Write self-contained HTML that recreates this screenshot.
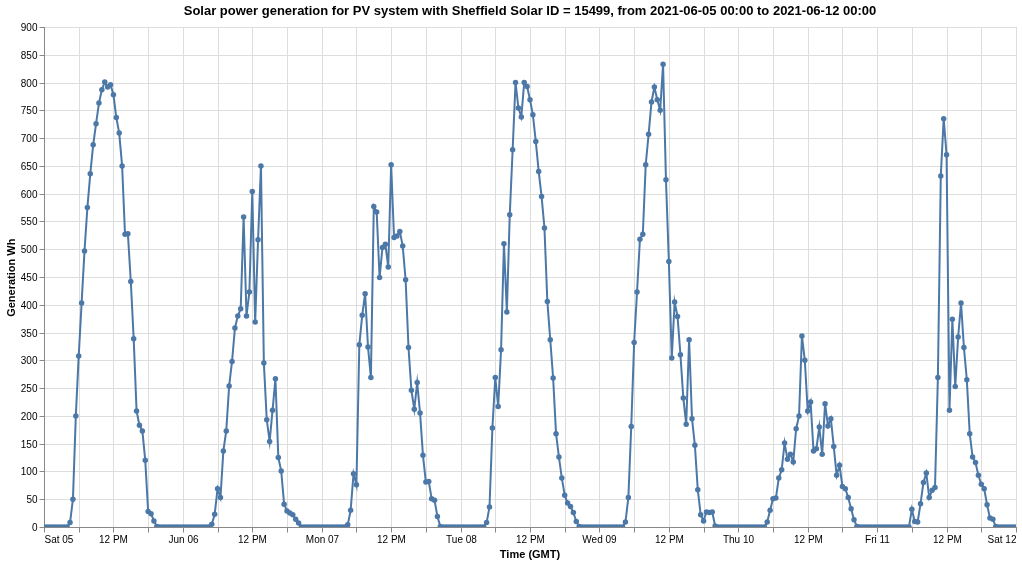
<!DOCTYPE html>
<html><head><meta charset="utf-8"><title>Solar power generation</title>
<style>html,body{margin:0;padding:0;background:#fff;}body{width:1022px;height:564px;overflow:hidden;}svg{display:block;will-change:transform;}text{font-family:"Liberation Sans",sans-serif;}</style></head><body>
<svg width="1022" height="564" viewBox="0 0 1022 564">
<rect width="1022" height="564" fill="#fff"/>
<g stroke="#ddd" stroke-width="1" fill="none">
<line x1="44.5" y1="27" x2="44.5" y2="527"/>
<line x1="79.5" y1="27" x2="79.5" y2="527"/>
<line x1="113.5" y1="27" x2="113.5" y2="527"/>
<line x1="148.5" y1="27" x2="148.5" y2="527"/>
<line x1="183.5" y1="27" x2="183.5" y2="527"/>
<line x1="218.5" y1="27" x2="218.5" y2="527"/>
<line x1="252.5" y1="27" x2="252.5" y2="527"/>
<line x1="287.5" y1="27" x2="287.5" y2="527"/>
<line x1="322.5" y1="27" x2="322.5" y2="527"/>
<line x1="356.5" y1="27" x2="356.5" y2="527"/>
<line x1="391.5" y1="27" x2="391.5" y2="527"/>
<line x1="426.5" y1="27" x2="426.5" y2="527"/>
<line x1="461.5" y1="27" x2="461.5" y2="527"/>
<line x1="495.5" y1="27" x2="495.5" y2="527"/>
<line x1="530.5" y1="27" x2="530.5" y2="527"/>
<line x1="565.5" y1="27" x2="565.5" y2="527"/>
<line x1="599.5" y1="27" x2="599.5" y2="527"/>
<line x1="634.5" y1="27" x2="634.5" y2="527"/>
<line x1="669.5" y1="27" x2="669.5" y2="527"/>
<line x1="704.5" y1="27" x2="704.5" y2="527"/>
<line x1="738.5" y1="27" x2="738.5" y2="527"/>
<line x1="773.5" y1="27" x2="773.5" y2="527"/>
<line x1="808.5" y1="27" x2="808.5" y2="527"/>
<line x1="842.5" y1="27" x2="842.5" y2="527"/>
<line x1="877.5" y1="27" x2="877.5" y2="527"/>
<line x1="912.5" y1="27" x2="912.5" y2="527"/>
<line x1="947.5" y1="27" x2="947.5" y2="527"/>
<line x1="981.5" y1="27" x2="981.5" y2="527"/>
<line x1="1016.5" y1="27" x2="1016.5" y2="527"/>
<line x1="44" y1="527.5" x2="1016" y2="527.5"/>
<line x1="44" y1="499.5" x2="1016" y2="499.5"/>
<line x1="44" y1="471.5" x2="1016" y2="471.5"/>
<line x1="44" y1="444.5" x2="1016" y2="444.5"/>
<line x1="44" y1="416.5" x2="1016" y2="416.5"/>
<line x1="44" y1="388.5" x2="1016" y2="388.5"/>
<line x1="44" y1="360.5" x2="1016" y2="360.5"/>
<line x1="44" y1="333.5" x2="1016" y2="333.5"/>
<line x1="44" y1="305.5" x2="1016" y2="305.5"/>
<line x1="44" y1="277.5" x2="1016" y2="277.5"/>
<line x1="44" y1="249.5" x2="1016" y2="249.5"/>
<line x1="44" y1="221.5" x2="1016" y2="221.5"/>
<line x1="44" y1="194.5" x2="1016" y2="194.5"/>
<line x1="44" y1="166.5" x2="1016" y2="166.5"/>
<line x1="44" y1="138.5" x2="1016" y2="138.5"/>
<line x1="44" y1="110.5" x2="1016" y2="110.5"/>
<line x1="44" y1="83.5" x2="1016" y2="83.5"/>
<line x1="44" y1="55.5" x2="1016" y2="55.5"/>
<line x1="44" y1="27.5" x2="1016" y2="27.5"/>
</g>
<g stroke="#888" stroke-width="1" fill="none">
<line x1="44.5" y1="527.5" x2="44.5" y2="532.5"/>
<line x1="79.5" y1="527.5" x2="79.5" y2="532.5"/>
<line x1="113.5" y1="527.5" x2="113.5" y2="532.5"/>
<line x1="148.5" y1="527.5" x2="148.5" y2="532.5"/>
<line x1="183.5" y1="527.5" x2="183.5" y2="532.5"/>
<line x1="218.5" y1="527.5" x2="218.5" y2="532.5"/>
<line x1="252.5" y1="527.5" x2="252.5" y2="532.5"/>
<line x1="287.5" y1="527.5" x2="287.5" y2="532.5"/>
<line x1="322.5" y1="527.5" x2="322.5" y2="532.5"/>
<line x1="356.5" y1="527.5" x2="356.5" y2="532.5"/>
<line x1="391.5" y1="527.5" x2="391.5" y2="532.5"/>
<line x1="426.5" y1="527.5" x2="426.5" y2="532.5"/>
<line x1="461.5" y1="527.5" x2="461.5" y2="532.5"/>
<line x1="495.5" y1="527.5" x2="495.5" y2="532.5"/>
<line x1="530.5" y1="527.5" x2="530.5" y2="532.5"/>
<line x1="565.5" y1="527.5" x2="565.5" y2="532.5"/>
<line x1="599.5" y1="527.5" x2="599.5" y2="532.5"/>
<line x1="634.5" y1="527.5" x2="634.5" y2="532.5"/>
<line x1="669.5" y1="527.5" x2="669.5" y2="532.5"/>
<line x1="704.5" y1="527.5" x2="704.5" y2="532.5"/>
<line x1="738.5" y1="527.5" x2="738.5" y2="532.5"/>
<line x1="773.5" y1="527.5" x2="773.5" y2="532.5"/>
<line x1="808.5" y1="527.5" x2="808.5" y2="532.5"/>
<line x1="842.5" y1="527.5" x2="842.5" y2="532.5"/>
<line x1="877.5" y1="527.5" x2="877.5" y2="532.5"/>
<line x1="912.5" y1="527.5" x2="912.5" y2="532.5"/>
<line x1="947.5" y1="527.5" x2="947.5" y2="532.5"/>
<line x1="981.5" y1="527.5" x2="981.5" y2="532.5"/>
<line x1="1016.5" y1="527.5" x2="1016.5" y2="532.5"/>
<line x1="39.5" y1="527.5" x2="44.5" y2="527.5"/>
<line x1="39.5" y1="499.5" x2="44.5" y2="499.5"/>
<line x1="39.5" y1="471.5" x2="44.5" y2="471.5"/>
<line x1="39.5" y1="444.5" x2="44.5" y2="444.5"/>
<line x1="39.5" y1="416.5" x2="44.5" y2="416.5"/>
<line x1="39.5" y1="388.5" x2="44.5" y2="388.5"/>
<line x1="39.5" y1="360.5" x2="44.5" y2="360.5"/>
<line x1="39.5" y1="333.5" x2="44.5" y2="333.5"/>
<line x1="39.5" y1="305.5" x2="44.5" y2="305.5"/>
<line x1="39.5" y1="277.5" x2="44.5" y2="277.5"/>
<line x1="39.5" y1="249.5" x2="44.5" y2="249.5"/>
<line x1="39.5" y1="221.5" x2="44.5" y2="221.5"/>
<line x1="39.5" y1="194.5" x2="44.5" y2="194.5"/>
<line x1="39.5" y1="166.5" x2="44.5" y2="166.5"/>
<line x1="39.5" y1="138.5" x2="44.5" y2="138.5"/>
<line x1="39.5" y1="110.5" x2="44.5" y2="110.5"/>
<line x1="39.5" y1="83.5" x2="44.5" y2="83.5"/>
<line x1="39.5" y1="55.5" x2="44.5" y2="55.5"/>
<line x1="39.5" y1="27.5" x2="44.5" y2="27.5"/>
<line x1="44" y1="527.5" x2="1017" y2="527.5"/>
<line x1="44.5" y1="27" x2="44.5" y2="528"/>
</g>
<g font-size="10" fill="#000">
<text x="37.5" y="530.5" text-anchor="end">0</text>
<text x="37.5" y="502.5" text-anchor="end">50</text>
<text x="37.5" y="474.5" text-anchor="end">100</text>
<text x="37.5" y="447.5" text-anchor="end">150</text>
<text x="37.5" y="419.5" text-anchor="end">200</text>
<text x="37.5" y="391.5" text-anchor="end">250</text>
<text x="37.5" y="363.5" text-anchor="end">300</text>
<text x="37.5" y="336.5" text-anchor="end">350</text>
<text x="37.5" y="308.5" text-anchor="end">400</text>
<text x="37.5" y="280.5" text-anchor="end">450</text>
<text x="37.5" y="252.5" text-anchor="end">500</text>
<text x="37.5" y="224.5" text-anchor="end">550</text>
<text x="37.5" y="197.5" text-anchor="end">600</text>
<text x="37.5" y="169.5" text-anchor="end">650</text>
<text x="37.5" y="141.5" text-anchor="end">700</text>
<text x="37.5" y="113.5" text-anchor="end">750</text>
<text x="37.5" y="86.5" text-anchor="end">800</text>
<text x="37.5" y="58.5" text-anchor="end">850</text>
<text x="37.5" y="30.5" text-anchor="end">900</text>
<text x="44.5" y="543.0" text-anchor="start">Sat 05</text>
<text x="113.5" y="543.0" text-anchor="middle">12 PM</text>
<text x="183.5" y="543.0" text-anchor="middle">Jun 06</text>
<text x="252.5" y="543.0" text-anchor="middle">12 PM</text>
<text x="322.5" y="543.0" text-anchor="middle">Mon 07</text>
<text x="391.5" y="543.0" text-anchor="middle">12 PM</text>
<text x="461.5" y="543.0" text-anchor="middle">Tue 08</text>
<text x="530.5" y="543.0" text-anchor="middle">12 PM</text>
<text x="599.5" y="543.0" text-anchor="middle">Wed 09</text>
<text x="669.5" y="543.0" text-anchor="middle">12 PM</text>
<text x="738.5" y="543.0" text-anchor="middle">Thu 10</text>
<text x="808.5" y="543.0" text-anchor="middle">12 PM</text>
<text x="877.5" y="543.0" text-anchor="middle">Fri 11</text>
<text x="947.5" y="543.0" text-anchor="middle">12 PM</text>
<text x="1016.5" y="543.0" text-anchor="end">Sat 12</text>
</g>
<text x="530" y="558" text-anchor="middle" font-size="11" font-weight="bold" fill="#000">Time (GMT)</text>
<text transform="translate(14.6,277.7) rotate(-90)" text-anchor="middle" font-size="11" font-weight="bold" fill="#000">Generation Wh</text>
<text x="530" y="15" text-anchor="middle" font-size="13" font-weight="bold" fill="#000">Solar power generation for PV system with Sheffield Solar ID = 15499, from 2021-06-05 00:00 to 2021-06-12 00:00</text>
<defs><clipPath id="c"><rect x="44" y="27" width="972" height="500"/></clipPath></defs>
<g clip-path="url(#c)">
<path d="M44.00,527.00L46.89,527.00L49.79,527.00L52.68,527.00L55.57,527.00L58.46,527.00L61.36,527.00L64.25,527.00L67.14,527.00L70.04,522.56L72.93,499.22L75.82,415.89L78.71,355.89L81.61,303.11L84.50,250.89L87.39,207.56L90.29,173.67L93.18,144.78L96.07,123.67L98.96,103.11L101.86,89.78L104.75,82.00L107.64,87.00L110.54,84.78L113.43,94.78L116.32,117.56L119.21,133.11L122.11,165.89L125.00,234.22L127.89,233.67L130.79,281.44L133.68,338.67L136.57,410.89L139.46,425.33L142.36,430.89L145.25,460.33L148.14,511.44L151.04,513.67L153.93,520.89L156.82,526.44L159.71,527.00L162.61,527.00L165.50,527.00L168.39,527.00L171.29,527.00L174.18,527.00L177.07,527.00L179.96,527.00L182.86,527.00L185.75,527.00L188.64,527.00L191.54,527.00L194.43,527.00L197.32,527.00L200.21,527.00L203.11,527.00L206.00,527.00L208.89,527.00L211.79,524.22L214.68,514.22L217.57,488.67L220.46,497.56L223.36,450.89L226.25,430.89L229.14,385.89L232.04,361.44L234.93,328.11L237.82,315.89L240.71,308.67L243.61,217.00L246.50,315.89L249.39,292.00L252.29,191.44L255.18,322.00L258.07,239.78L260.96,165.89L263.86,363.11L266.75,419.78L269.64,441.44L272.54,410.33L275.43,378.67L278.32,457.56L281.21,470.89L284.11,504.22L287.00,510.89L289.89,513.11L292.79,514.78L295.68,519.22L298.57,523.11L301.46,527.00L304.36,527.00L307.25,527.00L310.14,527.00L313.04,527.00L315.93,527.00L318.82,527.00L321.71,527.00L324.61,527.00L327.50,527.00L330.39,527.00L333.29,527.00L336.18,527.00L339.07,527.00L341.96,527.00L344.86,527.00L347.75,524.78L350.64,510.33L353.54,473.67L356.43,484.78L359.32,344.78L362.21,315.33L365.11,293.67L368.00,347.00L370.89,377.56L373.79,206.44L376.68,212.00L379.57,277.56L382.46,247.56L385.36,244.22L388.25,267.00L391.14,164.78L394.04,237.56L396.93,235.89L399.82,231.44L402.71,245.89L405.61,279.78L408.50,347.56L411.39,390.33L414.29,409.22L417.18,382.56L420.07,413.11L422.96,455.33L425.86,482.00L428.75,481.44L431.64,498.67L434.54,500.33L437.43,516.44L440.32,526.44L443.21,527.00L446.11,527.00L449.00,527.00L451.89,527.00L454.79,527.00L457.68,527.00L460.57,527.00L463.46,527.00L466.36,527.00L469.25,527.00L472.14,527.00L475.04,527.00L477.93,527.00L480.82,527.00L483.71,527.00L486.61,522.56L489.50,507.00L492.39,428.11L495.29,377.56L498.18,406.44L501.07,349.78L503.96,243.67L506.86,312.00L509.75,214.78L512.64,149.78L515.54,82.56L518.43,108.11L521.32,117.00L524.21,82.56L527.11,86.44L530.00,99.78L532.89,114.78L535.79,141.44L538.68,171.44L541.57,196.44L544.46,228.11L547.36,301.44L550.25,339.78L553.14,378.11L556.04,433.67L558.93,457.00L561.82,478.11L564.71,495.33L567.61,503.11L570.50,506.44L573.39,512.56L576.29,521.44L579.18,526.44L582.07,527.00L584.96,527.00L587.86,527.00L590.75,527.00L593.64,527.00L596.54,527.00L599.43,527.00L602.32,527.00L605.21,527.00L608.11,527.00L611.00,527.00L613.89,527.00L616.79,527.00L619.68,527.00L622.57,527.00L625.46,522.00L628.36,497.56L631.25,426.44L634.14,342.56L637.04,292.00L639.93,239.22L642.82,234.22L645.71,164.78L648.61,134.22L651.50,102.00L654.39,87.00L657.29,99.78L660.18,110.33L663.07,64.22L665.96,179.78L668.86,261.44L671.75,358.11L674.64,302.00L677.54,316.44L680.43,354.78L683.32,398.11L686.21,424.22L689.11,339.78L692.00,418.67L694.89,445.33L697.79,489.78L700.68,514.78L703.57,520.89L706.46,512.00L709.36,512.56L712.25,512.00L715.14,525.89L718.04,527.00L720.93,527.00L723.82,527.00L726.71,527.00L729.61,527.00L732.50,527.00L735.39,527.00L738.29,527.00L741.18,527.00L744.07,527.00L746.96,527.00L749.86,527.00L752.75,527.00L755.64,527.00L758.54,527.00L761.43,527.00L764.32,527.00L767.21,522.00L770.11,510.33L773.00,498.67L775.89,498.11L778.79,478.11L781.68,469.78L784.57,443.11L787.46,459.22L790.36,454.22L793.25,462.00L796.14,428.67L799.04,415.89L801.93,335.89L804.82,360.33L807.71,410.89L810.61,402.00L813.50,450.89L816.39,448.67L819.29,427.00L822.18,454.22L825.07,403.67L827.96,425.89L830.86,418.67L833.75,446.44L836.64,475.33L839.54,465.33L842.43,486.44L845.32,488.67L848.21,497.56L851.11,508.67L854.00,519.78L856.89,526.44L859.79,527.00L862.68,527.00L865.57,527.00L868.46,527.00L871.36,527.00L874.25,527.00L877.14,527.00L880.04,527.00L882.93,527.00L885.82,527.00L888.71,527.00L891.61,527.00L894.50,527.00L897.39,527.00L900.29,527.00L903.18,527.00L906.07,527.00L908.96,527.00L911.86,509.22L914.75,521.44L917.64,522.00L920.54,503.67L923.43,482.56L926.32,473.11L929.21,497.56L932.11,490.33L935.00,487.56L937.89,377.56L940.79,175.89L943.68,118.67L946.57,154.78L949.46,410.33L952.36,319.22L955.25,386.44L958.14,337.00L961.04,303.11L963.93,347.56L966.82,379.78L969.71,433.67L972.61,457.00L975.50,462.56L978.39,475.33L981.29,484.22L984.18,488.67L987.07,504.78L989.96,518.11L992.86,519.22L995.75,526.44L998.64,527.00L1001.54,527.00L1004.43,527.00L1007.32,527.00L1010.21,527.00L1013.11,527.00L1016.00,527.00" fill="none" stroke="#4c78a8" stroke-width="2" stroke-linejoin="miter" stroke-miterlimit="10"/>
<g fill="#4c78a8">
<circle cx="44.00" cy="527.00" r="2.74"/>
<circle cx="46.89" cy="527.00" r="2.74"/>
<circle cx="49.79" cy="527.00" r="2.74"/>
<circle cx="52.68" cy="527.00" r="2.74"/>
<circle cx="55.57" cy="527.00" r="2.74"/>
<circle cx="58.46" cy="527.00" r="2.74"/>
<circle cx="61.36" cy="527.00" r="2.74"/>
<circle cx="64.25" cy="527.00" r="2.74"/>
<circle cx="67.14" cy="527.00" r="2.74"/>
<circle cx="70.04" cy="522.56" r="2.74"/>
<circle cx="72.93" cy="499.22" r="2.74"/>
<circle cx="75.82" cy="415.89" r="2.74"/>
<circle cx="78.71" cy="355.89" r="2.74"/>
<circle cx="81.61" cy="303.11" r="2.74"/>
<circle cx="84.50" cy="250.89" r="2.74"/>
<circle cx="87.39" cy="207.56" r="2.74"/>
<circle cx="90.29" cy="173.67" r="2.74"/>
<circle cx="93.18" cy="144.78" r="2.74"/>
<circle cx="96.07" cy="123.67" r="2.74"/>
<circle cx="98.96" cy="103.11" r="2.74"/>
<circle cx="101.86" cy="89.78" r="2.74"/>
<circle cx="104.75" cy="82.00" r="2.74"/>
<circle cx="107.64" cy="87.00" r="2.74"/>
<circle cx="110.54" cy="84.78" r="2.74"/>
<circle cx="113.43" cy="94.78" r="2.74"/>
<circle cx="116.32" cy="117.56" r="2.74"/>
<circle cx="119.21" cy="133.11" r="2.74"/>
<circle cx="122.11" cy="165.89" r="2.74"/>
<circle cx="125.00" cy="234.22" r="2.74"/>
<circle cx="127.89" cy="233.67" r="2.74"/>
<circle cx="130.79" cy="281.44" r="2.74"/>
<circle cx="133.68" cy="338.67" r="2.74"/>
<circle cx="136.57" cy="410.89" r="2.74"/>
<circle cx="139.46" cy="425.33" r="2.74"/>
<circle cx="142.36" cy="430.89" r="2.74"/>
<circle cx="145.25" cy="460.33" r="2.74"/>
<circle cx="148.14" cy="511.44" r="2.74"/>
<circle cx="151.04" cy="513.67" r="2.74"/>
<circle cx="153.93" cy="520.89" r="2.74"/>
<circle cx="156.82" cy="526.44" r="2.74"/>
<circle cx="159.71" cy="527.00" r="2.74"/>
<circle cx="162.61" cy="527.00" r="2.74"/>
<circle cx="165.50" cy="527.00" r="2.74"/>
<circle cx="168.39" cy="527.00" r="2.74"/>
<circle cx="171.29" cy="527.00" r="2.74"/>
<circle cx="174.18" cy="527.00" r="2.74"/>
<circle cx="177.07" cy="527.00" r="2.74"/>
<circle cx="179.96" cy="527.00" r="2.74"/>
<circle cx="182.86" cy="527.00" r="2.74"/>
<circle cx="185.75" cy="527.00" r="2.74"/>
<circle cx="188.64" cy="527.00" r="2.74"/>
<circle cx="191.54" cy="527.00" r="2.74"/>
<circle cx="194.43" cy="527.00" r="2.74"/>
<circle cx="197.32" cy="527.00" r="2.74"/>
<circle cx="200.21" cy="527.00" r="2.74"/>
<circle cx="203.11" cy="527.00" r="2.74"/>
<circle cx="206.00" cy="527.00" r="2.74"/>
<circle cx="208.89" cy="527.00" r="2.74"/>
<circle cx="211.79" cy="524.22" r="2.74"/>
<circle cx="214.68" cy="514.22" r="2.74"/>
<circle cx="217.57" cy="488.67" r="2.74"/>
<circle cx="220.46" cy="497.56" r="2.74"/>
<circle cx="223.36" cy="450.89" r="2.74"/>
<circle cx="226.25" cy="430.89" r="2.74"/>
<circle cx="229.14" cy="385.89" r="2.74"/>
<circle cx="232.04" cy="361.44" r="2.74"/>
<circle cx="234.93" cy="328.11" r="2.74"/>
<circle cx="237.82" cy="315.89" r="2.74"/>
<circle cx="240.71" cy="308.67" r="2.74"/>
<circle cx="243.61" cy="217.00" r="2.74"/>
<circle cx="246.50" cy="315.89" r="2.74"/>
<circle cx="249.39" cy="292.00" r="2.74"/>
<circle cx="252.29" cy="191.44" r="2.74"/>
<circle cx="255.18" cy="322.00" r="2.74"/>
<circle cx="258.07" cy="239.78" r="2.74"/>
<circle cx="260.96" cy="165.89" r="2.74"/>
<circle cx="263.86" cy="363.11" r="2.74"/>
<circle cx="266.75" cy="419.78" r="2.74"/>
<circle cx="269.64" cy="441.44" r="2.74"/>
<circle cx="272.54" cy="410.33" r="2.74"/>
<circle cx="275.43" cy="378.67" r="2.74"/>
<circle cx="278.32" cy="457.56" r="2.74"/>
<circle cx="281.21" cy="470.89" r="2.74"/>
<circle cx="284.11" cy="504.22" r="2.74"/>
<circle cx="287.00" cy="510.89" r="2.74"/>
<circle cx="289.89" cy="513.11" r="2.74"/>
<circle cx="292.79" cy="514.78" r="2.74"/>
<circle cx="295.68" cy="519.22" r="2.74"/>
<circle cx="298.57" cy="523.11" r="2.74"/>
<circle cx="301.46" cy="527.00" r="2.74"/>
<circle cx="304.36" cy="527.00" r="2.74"/>
<circle cx="307.25" cy="527.00" r="2.74"/>
<circle cx="310.14" cy="527.00" r="2.74"/>
<circle cx="313.04" cy="527.00" r="2.74"/>
<circle cx="315.93" cy="527.00" r="2.74"/>
<circle cx="318.82" cy="527.00" r="2.74"/>
<circle cx="321.71" cy="527.00" r="2.74"/>
<circle cx="324.61" cy="527.00" r="2.74"/>
<circle cx="327.50" cy="527.00" r="2.74"/>
<circle cx="330.39" cy="527.00" r="2.74"/>
<circle cx="333.29" cy="527.00" r="2.74"/>
<circle cx="336.18" cy="527.00" r="2.74"/>
<circle cx="339.07" cy="527.00" r="2.74"/>
<circle cx="341.96" cy="527.00" r="2.74"/>
<circle cx="344.86" cy="527.00" r="2.74"/>
<circle cx="347.75" cy="524.78" r="2.74"/>
<circle cx="350.64" cy="510.33" r="2.74"/>
<circle cx="353.54" cy="473.67" r="2.74"/>
<circle cx="356.43" cy="484.78" r="2.74"/>
<circle cx="359.32" cy="344.78" r="2.74"/>
<circle cx="362.21" cy="315.33" r="2.74"/>
<circle cx="365.11" cy="293.67" r="2.74"/>
<circle cx="368.00" cy="347.00" r="2.74"/>
<circle cx="370.89" cy="377.56" r="2.74"/>
<circle cx="373.79" cy="206.44" r="2.74"/>
<circle cx="376.68" cy="212.00" r="2.74"/>
<circle cx="379.57" cy="277.56" r="2.74"/>
<circle cx="382.46" cy="247.56" r="2.74"/>
<circle cx="385.36" cy="244.22" r="2.74"/>
<circle cx="388.25" cy="267.00" r="2.74"/>
<circle cx="391.14" cy="164.78" r="2.74"/>
<circle cx="394.04" cy="237.56" r="2.74"/>
<circle cx="396.93" cy="235.89" r="2.74"/>
<circle cx="399.82" cy="231.44" r="2.74"/>
<circle cx="402.71" cy="245.89" r="2.74"/>
<circle cx="405.61" cy="279.78" r="2.74"/>
<circle cx="408.50" cy="347.56" r="2.74"/>
<circle cx="411.39" cy="390.33" r="2.74"/>
<circle cx="414.29" cy="409.22" r="2.74"/>
<circle cx="417.18" cy="382.56" r="2.74"/>
<circle cx="420.07" cy="413.11" r="2.74"/>
<circle cx="422.96" cy="455.33" r="2.74"/>
<circle cx="425.86" cy="482.00" r="2.74"/>
<circle cx="428.75" cy="481.44" r="2.74"/>
<circle cx="431.64" cy="498.67" r="2.74"/>
<circle cx="434.54" cy="500.33" r="2.74"/>
<circle cx="437.43" cy="516.44" r="2.74"/>
<circle cx="440.32" cy="526.44" r="2.74"/>
<circle cx="443.21" cy="527.00" r="2.74"/>
<circle cx="446.11" cy="527.00" r="2.74"/>
<circle cx="449.00" cy="527.00" r="2.74"/>
<circle cx="451.89" cy="527.00" r="2.74"/>
<circle cx="454.79" cy="527.00" r="2.74"/>
<circle cx="457.68" cy="527.00" r="2.74"/>
<circle cx="460.57" cy="527.00" r="2.74"/>
<circle cx="463.46" cy="527.00" r="2.74"/>
<circle cx="466.36" cy="527.00" r="2.74"/>
<circle cx="469.25" cy="527.00" r="2.74"/>
<circle cx="472.14" cy="527.00" r="2.74"/>
<circle cx="475.04" cy="527.00" r="2.74"/>
<circle cx="477.93" cy="527.00" r="2.74"/>
<circle cx="480.82" cy="527.00" r="2.74"/>
<circle cx="483.71" cy="527.00" r="2.74"/>
<circle cx="486.61" cy="522.56" r="2.74"/>
<circle cx="489.50" cy="507.00" r="2.74"/>
<circle cx="492.39" cy="428.11" r="2.74"/>
<circle cx="495.29" cy="377.56" r="2.74"/>
<circle cx="498.18" cy="406.44" r="2.74"/>
<circle cx="501.07" cy="349.78" r="2.74"/>
<circle cx="503.96" cy="243.67" r="2.74"/>
<circle cx="506.86" cy="312.00" r="2.74"/>
<circle cx="509.75" cy="214.78" r="2.74"/>
<circle cx="512.64" cy="149.78" r="2.74"/>
<circle cx="515.54" cy="82.56" r="2.74"/>
<circle cx="518.43" cy="108.11" r="2.74"/>
<circle cx="521.32" cy="117.00" r="2.74"/>
<circle cx="524.21" cy="82.56" r="2.74"/>
<circle cx="527.11" cy="86.44" r="2.74"/>
<circle cx="530.00" cy="99.78" r="2.74"/>
<circle cx="532.89" cy="114.78" r="2.74"/>
<circle cx="535.79" cy="141.44" r="2.74"/>
<circle cx="538.68" cy="171.44" r="2.74"/>
<circle cx="541.57" cy="196.44" r="2.74"/>
<circle cx="544.46" cy="228.11" r="2.74"/>
<circle cx="547.36" cy="301.44" r="2.74"/>
<circle cx="550.25" cy="339.78" r="2.74"/>
<circle cx="553.14" cy="378.11" r="2.74"/>
<circle cx="556.04" cy="433.67" r="2.74"/>
<circle cx="558.93" cy="457.00" r="2.74"/>
<circle cx="561.82" cy="478.11" r="2.74"/>
<circle cx="564.71" cy="495.33" r="2.74"/>
<circle cx="567.61" cy="503.11" r="2.74"/>
<circle cx="570.50" cy="506.44" r="2.74"/>
<circle cx="573.39" cy="512.56" r="2.74"/>
<circle cx="576.29" cy="521.44" r="2.74"/>
<circle cx="579.18" cy="526.44" r="2.74"/>
<circle cx="582.07" cy="527.00" r="2.74"/>
<circle cx="584.96" cy="527.00" r="2.74"/>
<circle cx="587.86" cy="527.00" r="2.74"/>
<circle cx="590.75" cy="527.00" r="2.74"/>
<circle cx="593.64" cy="527.00" r="2.74"/>
<circle cx="596.54" cy="527.00" r="2.74"/>
<circle cx="599.43" cy="527.00" r="2.74"/>
<circle cx="602.32" cy="527.00" r="2.74"/>
<circle cx="605.21" cy="527.00" r="2.74"/>
<circle cx="608.11" cy="527.00" r="2.74"/>
<circle cx="611.00" cy="527.00" r="2.74"/>
<circle cx="613.89" cy="527.00" r="2.74"/>
<circle cx="616.79" cy="527.00" r="2.74"/>
<circle cx="619.68" cy="527.00" r="2.74"/>
<circle cx="622.57" cy="527.00" r="2.74"/>
<circle cx="625.46" cy="522.00" r="2.74"/>
<circle cx="628.36" cy="497.56" r="2.74"/>
<circle cx="631.25" cy="426.44" r="2.74"/>
<circle cx="634.14" cy="342.56" r="2.74"/>
<circle cx="637.04" cy="292.00" r="2.74"/>
<circle cx="639.93" cy="239.22" r="2.74"/>
<circle cx="642.82" cy="234.22" r="2.74"/>
<circle cx="645.71" cy="164.78" r="2.74"/>
<circle cx="648.61" cy="134.22" r="2.74"/>
<circle cx="651.50" cy="102.00" r="2.74"/>
<circle cx="654.39" cy="87.00" r="2.74"/>
<circle cx="657.29" cy="99.78" r="2.74"/>
<circle cx="660.18" cy="110.33" r="2.74"/>
<circle cx="663.07" cy="64.22" r="2.74"/>
<circle cx="665.96" cy="179.78" r="2.74"/>
<circle cx="668.86" cy="261.44" r="2.74"/>
<circle cx="671.75" cy="358.11" r="2.74"/>
<circle cx="674.64" cy="302.00" r="2.74"/>
<circle cx="677.54" cy="316.44" r="2.74"/>
<circle cx="680.43" cy="354.78" r="2.74"/>
<circle cx="683.32" cy="398.11" r="2.74"/>
<circle cx="686.21" cy="424.22" r="2.74"/>
<circle cx="689.11" cy="339.78" r="2.74"/>
<circle cx="692.00" cy="418.67" r="2.74"/>
<circle cx="694.89" cy="445.33" r="2.74"/>
<circle cx="697.79" cy="489.78" r="2.74"/>
<circle cx="700.68" cy="514.78" r="2.74"/>
<circle cx="703.57" cy="520.89" r="2.74"/>
<circle cx="706.46" cy="512.00" r="2.74"/>
<circle cx="709.36" cy="512.56" r="2.74"/>
<circle cx="712.25" cy="512.00" r="2.74"/>
<circle cx="715.14" cy="525.89" r="2.74"/>
<circle cx="718.04" cy="527.00" r="2.74"/>
<circle cx="720.93" cy="527.00" r="2.74"/>
<circle cx="723.82" cy="527.00" r="2.74"/>
<circle cx="726.71" cy="527.00" r="2.74"/>
<circle cx="729.61" cy="527.00" r="2.74"/>
<circle cx="732.50" cy="527.00" r="2.74"/>
<circle cx="735.39" cy="527.00" r="2.74"/>
<circle cx="738.29" cy="527.00" r="2.74"/>
<circle cx="741.18" cy="527.00" r="2.74"/>
<circle cx="744.07" cy="527.00" r="2.74"/>
<circle cx="746.96" cy="527.00" r="2.74"/>
<circle cx="749.86" cy="527.00" r="2.74"/>
<circle cx="752.75" cy="527.00" r="2.74"/>
<circle cx="755.64" cy="527.00" r="2.74"/>
<circle cx="758.54" cy="527.00" r="2.74"/>
<circle cx="761.43" cy="527.00" r="2.74"/>
<circle cx="764.32" cy="527.00" r="2.74"/>
<circle cx="767.21" cy="522.00" r="2.74"/>
<circle cx="770.11" cy="510.33" r="2.74"/>
<circle cx="773.00" cy="498.67" r="2.74"/>
<circle cx="775.89" cy="498.11" r="2.74"/>
<circle cx="778.79" cy="478.11" r="2.74"/>
<circle cx="781.68" cy="469.78" r="2.74"/>
<circle cx="784.57" cy="443.11" r="2.74"/>
<circle cx="787.46" cy="459.22" r="2.74"/>
<circle cx="790.36" cy="454.22" r="2.74"/>
<circle cx="793.25" cy="462.00" r="2.74"/>
<circle cx="796.14" cy="428.67" r="2.74"/>
<circle cx="799.04" cy="415.89" r="2.74"/>
<circle cx="801.93" cy="335.89" r="2.74"/>
<circle cx="804.82" cy="360.33" r="2.74"/>
<circle cx="807.71" cy="410.89" r="2.74"/>
<circle cx="810.61" cy="402.00" r="2.74"/>
<circle cx="813.50" cy="450.89" r="2.74"/>
<circle cx="816.39" cy="448.67" r="2.74"/>
<circle cx="819.29" cy="427.00" r="2.74"/>
<circle cx="822.18" cy="454.22" r="2.74"/>
<circle cx="825.07" cy="403.67" r="2.74"/>
<circle cx="827.96" cy="425.89" r="2.74"/>
<circle cx="830.86" cy="418.67" r="2.74"/>
<circle cx="833.75" cy="446.44" r="2.74"/>
<circle cx="836.64" cy="475.33" r="2.74"/>
<circle cx="839.54" cy="465.33" r="2.74"/>
<circle cx="842.43" cy="486.44" r="2.74"/>
<circle cx="845.32" cy="488.67" r="2.74"/>
<circle cx="848.21" cy="497.56" r="2.74"/>
<circle cx="851.11" cy="508.67" r="2.74"/>
<circle cx="854.00" cy="519.78" r="2.74"/>
<circle cx="856.89" cy="526.44" r="2.74"/>
<circle cx="859.79" cy="527.00" r="2.74"/>
<circle cx="862.68" cy="527.00" r="2.74"/>
<circle cx="865.57" cy="527.00" r="2.74"/>
<circle cx="868.46" cy="527.00" r="2.74"/>
<circle cx="871.36" cy="527.00" r="2.74"/>
<circle cx="874.25" cy="527.00" r="2.74"/>
<circle cx="877.14" cy="527.00" r="2.74"/>
<circle cx="880.04" cy="527.00" r="2.74"/>
<circle cx="882.93" cy="527.00" r="2.74"/>
<circle cx="885.82" cy="527.00" r="2.74"/>
<circle cx="888.71" cy="527.00" r="2.74"/>
<circle cx="891.61" cy="527.00" r="2.74"/>
<circle cx="894.50" cy="527.00" r="2.74"/>
<circle cx="897.39" cy="527.00" r="2.74"/>
<circle cx="900.29" cy="527.00" r="2.74"/>
<circle cx="903.18" cy="527.00" r="2.74"/>
<circle cx="906.07" cy="527.00" r="2.74"/>
<circle cx="908.96" cy="527.00" r="2.74"/>
<circle cx="911.86" cy="509.22" r="2.74"/>
<circle cx="914.75" cy="521.44" r="2.74"/>
<circle cx="917.64" cy="522.00" r="2.74"/>
<circle cx="920.54" cy="503.67" r="2.74"/>
<circle cx="923.43" cy="482.56" r="2.74"/>
<circle cx="926.32" cy="473.11" r="2.74"/>
<circle cx="929.21" cy="497.56" r="2.74"/>
<circle cx="932.11" cy="490.33" r="2.74"/>
<circle cx="935.00" cy="487.56" r="2.74"/>
<circle cx="937.89" cy="377.56" r="2.74"/>
<circle cx="940.79" cy="175.89" r="2.74"/>
<circle cx="943.68" cy="118.67" r="2.74"/>
<circle cx="946.57" cy="154.78" r="2.74"/>
<circle cx="949.46" cy="410.33" r="2.74"/>
<circle cx="952.36" cy="319.22" r="2.74"/>
<circle cx="955.25" cy="386.44" r="2.74"/>
<circle cx="958.14" cy="337.00" r="2.74"/>
<circle cx="961.04" cy="303.11" r="2.74"/>
<circle cx="963.93" cy="347.56" r="2.74"/>
<circle cx="966.82" cy="379.78" r="2.74"/>
<circle cx="969.71" cy="433.67" r="2.74"/>
<circle cx="972.61" cy="457.00" r="2.74"/>
<circle cx="975.50" cy="462.56" r="2.74"/>
<circle cx="978.39" cy="475.33" r="2.74"/>
<circle cx="981.29" cy="484.22" r="2.74"/>
<circle cx="984.18" cy="488.67" r="2.74"/>
<circle cx="987.07" cy="504.78" r="2.74"/>
<circle cx="989.96" cy="518.11" r="2.74"/>
<circle cx="992.86" cy="519.22" r="2.74"/>
<circle cx="995.75" cy="526.44" r="2.74"/>
<circle cx="998.64" cy="527.00" r="2.74"/>
<circle cx="1001.54" cy="527.00" r="2.74"/>
<circle cx="1004.43" cy="527.00" r="2.74"/>
<circle cx="1007.32" cy="527.00" r="2.74"/>
<circle cx="1010.21" cy="527.00" r="2.74"/>
<circle cx="1013.11" cy="527.00" r="2.74"/>
<circle cx="1016.00" cy="527.00" r="2.74"/>
</g>
</g>
</svg></body></html>
